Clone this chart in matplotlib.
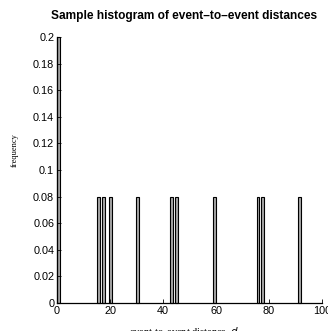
import matplotlib
matplotlib.use("Agg")
import matplotlib.pyplot as plt

# distances (bin centres) and their frequencies
distances = [0.5, 15.7, 17.6, 20.2, 30.3, 43.1, 45.2, 59.4, 75.8, 77.6, 91.5]
freqs = [0.2, 0.08, 0.08, 0.08, 0.08, 0.08, 0.08, 0.08, 0.08, 0.08, 0.08]
xticks = [0, 20, 40, 60, 80, 100]
yticks = [0, 0.02, 0.04, 0.06, 0.08, 0.1, 0.12, 0.14, 0.16, 0.18, 0.2]

sans = ['Liberation Sans', 'DejaVu Sans']
serif = ['Liberation Serif', 'DejaVu Serif']

fig = plt.figure(figsize=(3.28, 3.31), dpi=100)
ax = fig.add_axes([0.1738, 0.0846, 0.808, 0.8036])

ax.bar(distances, freqs, width=1.0, color='#a8a8a8', edgecolor='black',
       linewidth=0.8, clip_on=False)

ax.set_xlim(0, 100)
ax.set_ylim(0, 0.2)
ax.set_xticks(xticks)
ax.set_yticks(yticks)
ax.set_xticklabels([f'{v:g}' for v in xticks], family=sans, fontsize=7.8)
ax.set_yticklabels([f'{v:g}' for v in yticks], family=sans, fontsize=7.8)
ax.tick_params(direction='in', length=3, width=0.6, pad=2)

for side in ['top', 'right']:
    ax.spines[side].set_visible(False)
for side in ['left', 'bottom']:
    ax.spines[side].set_linewidth(0.9)

ax.set_ylabel('frequency', family=serif, fontsize=6)
ax.yaxis.set_label_coords(-0.145, 0.575)
ax.set_xlabel('event-to-event distance, $d$', family=serif, fontsize=7.5)
ax.xaxis.set_label_coords(0.479, -0.083)

ax.text(0.479, 1.079, 'Sample histogram of event\u2013to\u2013event distances',
        transform=ax.transAxes, ha='center', va='center',
        family=sans, fontsize=8.6, fontweight='bold')

fig.savefig('out.png', dpi=100)
